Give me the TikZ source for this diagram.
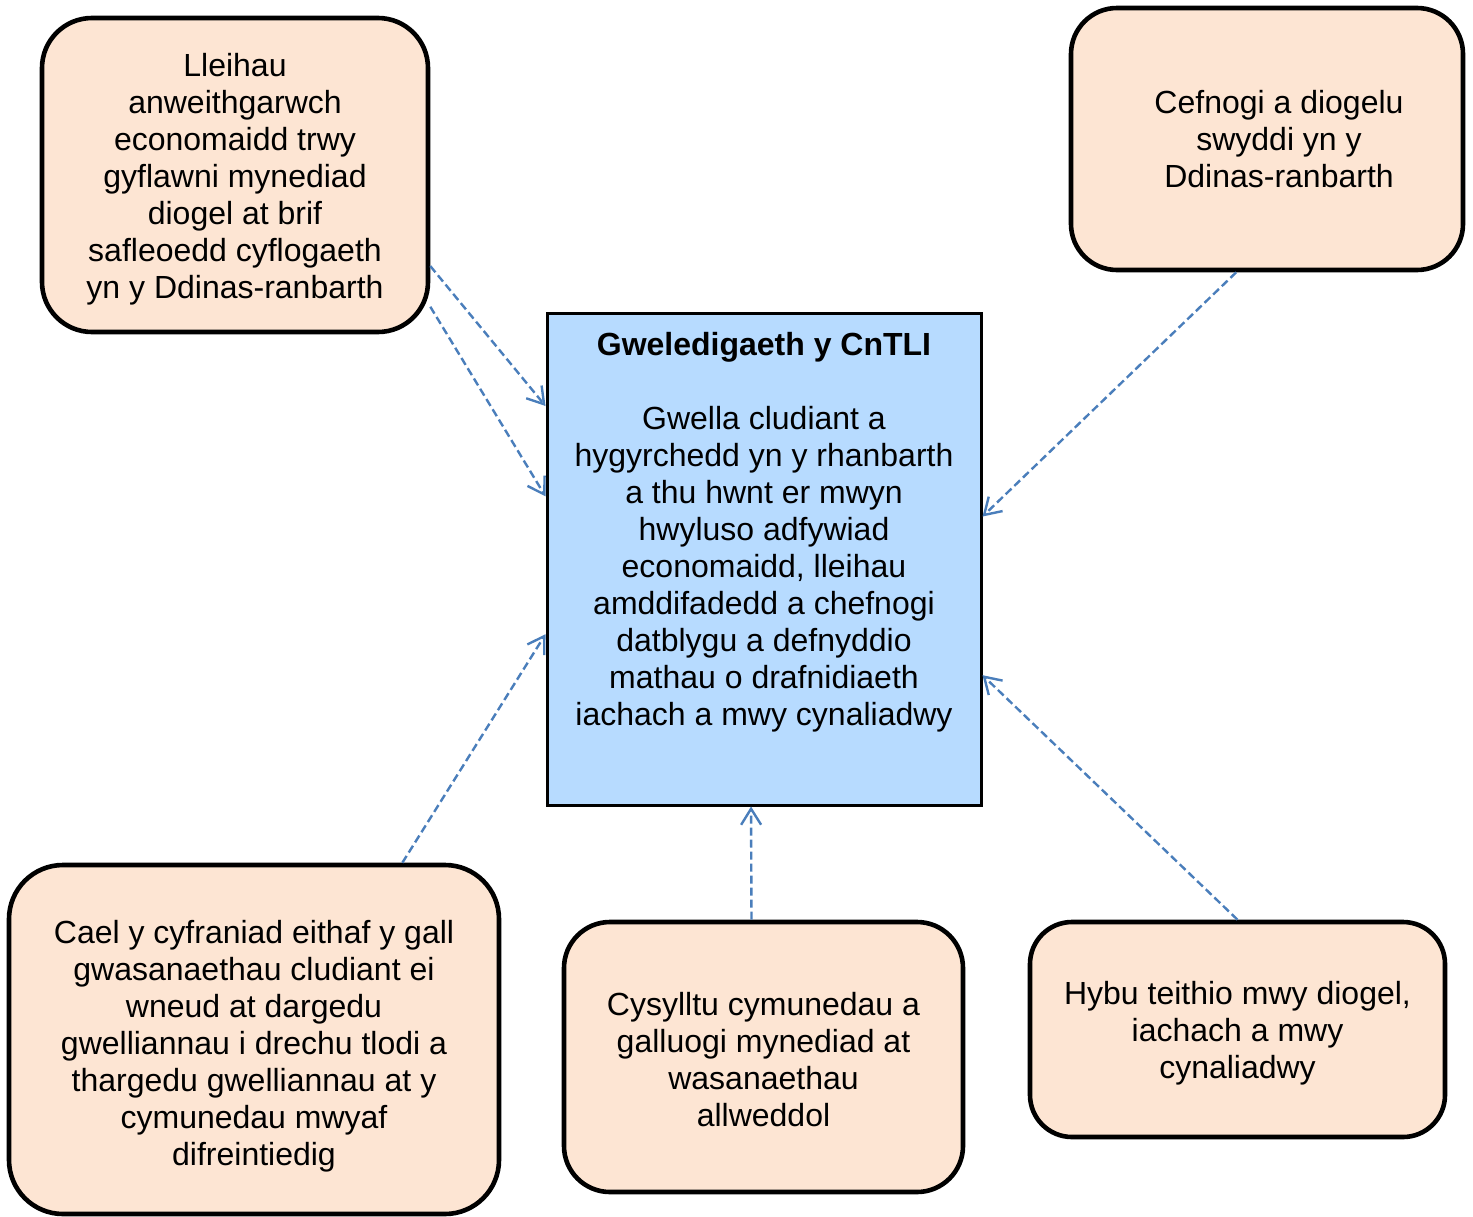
\documentclass[tikz,border=0pt]{standalone}
\usepackage{fontspec}
\setmainfont{Liberation Sans}
\usetikzlibrary{arrows.meta}
\definecolor{peach}{HTML}{FDE5D3}
\definecolor{skyb}{HTML}{B7DBFF}
\definecolor{arrc}{HTML}{4A7EBB}
\begin{document}
\begin{tikzpicture}[x=0.5pt,y=-0.5pt,
  txt/.style={align=center, font=\fontsize{16pt}{18.5pt}\selectfont},
  rbox/.style={draw=black, line width=2.3pt, fill=peach, rounded corners=#1, inner sep=0pt},
  vbox/.style={draw=black, line width=1.5pt, fill=skyb, inner sep=0pt},
  link/.style={draw=arrc, line width=1.2pt, dash pattern=on 4pt off 2pt, -{Straight Barb[length=8pt,width=10pt]}}]
\useasboundingbox (0,0) rectangle (1473,1216);
\node[rbox=25pt, minimum width=193pt, minimum height=157pt] (A) at (235,175) {};
\node[txt] (At) at (235,179)
  {Lleihau\\anweithgarwch\\economaidd trwy\\gyflawni mynediad\\diogel at brif\\safleoedd cyflogaeth\\yn y Ddinas-ranbarth};
\node[rbox=23pt, minimum width=196pt, minimum height=131pt] (B) at (1267,139) {};
\node[txt] (Bt) at (1279,139) {Cefnogi a diogelu\\swyddi yn y\\Ddinas-ranbarth};
\node[vbox, minimum width=217pt, minimum height=246pt] (M) at (764,559) {};
\node[txt] (Mt) at (764,532) {\textbf{Gweledigaeth y CnTLI}\\[18.5pt]Gwella cludiant a\\hygyrchedd yn y rhanbarth\\a thu hwnt er mwyn\\hwyluso adfywiad\\economaidd, lleihau\\amddifadedd a chefnogi\\datblygu a defnyddio\\mathau o drafnidiaeth\\iachach a mwy cynaliadwy};
\node[rbox=27pt, minimum width=245pt, minimum height=174.5pt] (C) at (254,1039.5) {};
\node[txt] (Ct) at (254,1046.5)
  {Cael y cyfraniad eithaf y gall\\gwasanaethau cludiant ei\\wneud at dargedu\\gwelliannau i drechu tlodi a\\thargedu gwelliannau at y\\cymunedau mwyaf\\difreintiedig};
\node[rbox=23pt, minimum width=199.5pt, minimum height=135pt] (D) at (763.5,1057) {};
\node[txt] (Dt) at (763.5,1060)
  {Cysylltu cymunedau a\\galluogi mynediad at\\wasanaethau\\allweddol};
\node[rbox=21pt, minimum width=207.5pt, minimum height=107.5pt] (E) at (1237.5,1029.5) {};
\node[txt] (Et) at (1237.5,1033.5)
  {Hybu teithio mwy diogel,\\iachach a mwy\\cynaliadwy};
\draw[link] (A.-25.5) -- (M.145.9);
\draw[link] (A.-34.2) -- (M.164.8);
\draw[link] (B.-103.7) -- (M.11.9);
\draw[link] (C.50.7) -- (M.-161.2);
\draw[link] (D.95.3) -- (M.-93.5);
\draw[link] (E.north) -- (M.-28.7);
\end{tikzpicture}
\end{document}
